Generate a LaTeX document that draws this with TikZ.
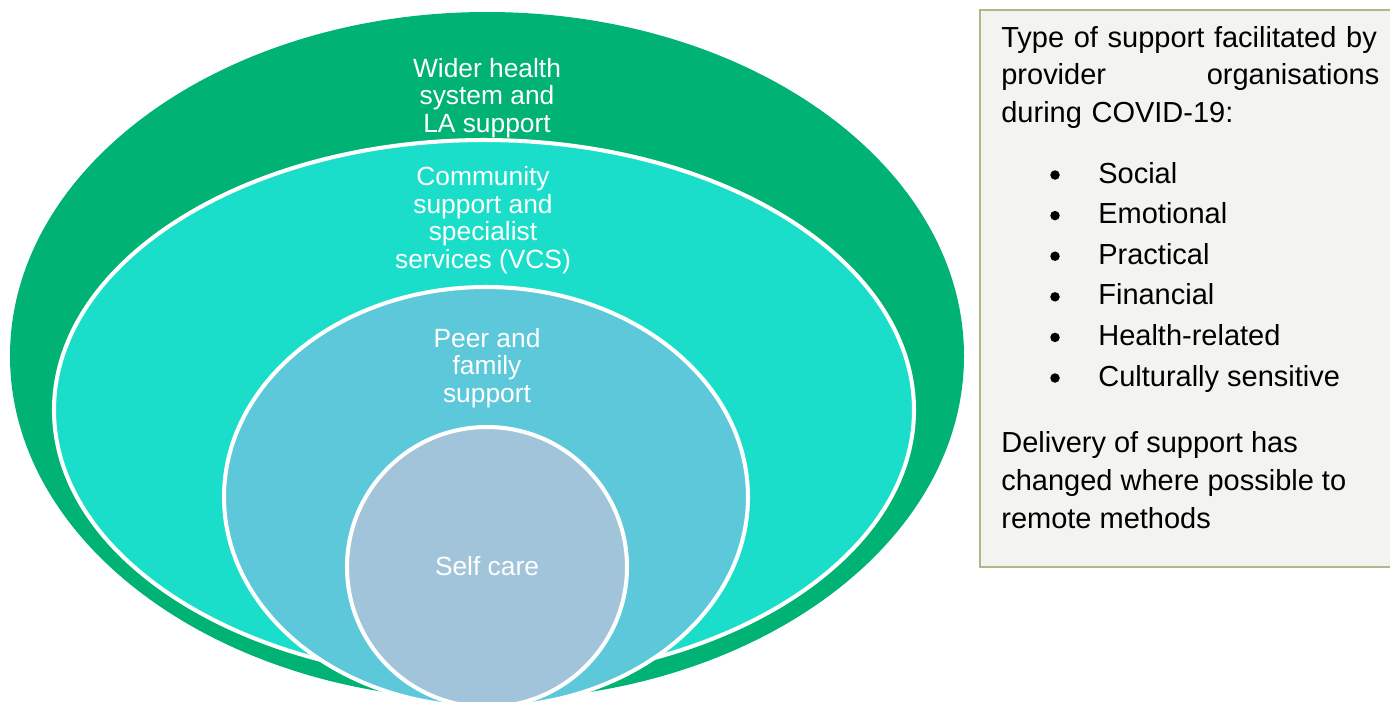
\documentclass[tikz,border=0pt]{standalone}
\usepackage{fontspec}
\setmainfont{Liberation Sans}

\definecolor{widergreen}{HTML}{00B273}
\definecolor{communityteal}{HTML}{1ADECA}
\definecolor{peerblue}{HTML}{5DC8D9}
\definecolor{selfblue}{HTML}{A1C4DA}
\definecolor{boxfill}{HTML}{F3F4EF}
\definecolor{boxline}{HTML}{B5B589}

\begin{document}
\begin{tikzpicture}[x=0.02cm,y=-0.02cm,
  layer/.style={draw=white,line width=2.3pt},
  ring label/.style={white,align=center,anchor=base,inner sep=0pt,
    font=\fontsize{15}{15.6}\selectfont},
  box text/.style={anchor=base west,inner sep=0pt,align=left,
    font=\fontsize{16.5}{21.5}\selectfont},
  bulletdot/.style={circle,fill=black,inner sep=0pt,minimum size=0.19cm}]
\useasboundingbox (0,0) rectangle (1390,701);
\clip (0,0) rectangle (1390,701);

% Nested layers, outermost first
\fill[widergreen] (487,356) ellipse [x radius=477, y radius=344];
\filldraw[layer,fill=communityteal] (484,410) ellipse [x radius=430, y radius=270];
\filldraw[layer,fill=peerblue] (486,497) ellipse [x radius=262, y radius=210];
\filldraw[layer,fill=selfblue] (487,567) circle [radius=140];

% Layer names (base sits on the last line)
\node[ring label] (wider) at (487,132) {Wider health\\system and\\LA support};
\node[ring label] (community) at (483,268) {Community\\support and\\specialist\\services (VCS)};
\node[ring label] (peer) at (487,402) {Peer and\\family\\support};
\node[ring label] (self) at (487,575) {Self care};

% Side panel
\filldraw[fill=boxfill,draw=boxline,line width=1.2pt] (980,10) rectangle (1400,567);
\node[box text,text width=7.56cm] (types) at (1001,47)
  {Type of support facilitated by\\provider\hfill organisations\\during COVID-19:};

% Bullet list of support types
\foreach \kind [count=\i] in {Social,Emotional,Practical,Financial,Health-related,Culturally sensitive}
{
  \node[bulletdot] (dot\i) at (1055,{175+40.6*(\i-1)}) {};
  \node[box text] (kind\i) at (1098,{183+40.6*(\i-1)}) {\kind};
}

\node[box text] (delivery) at (1001,528)
  {Delivery of support has\\changed where possible to\\remote methods};
\end{tikzpicture}
\end{document}
